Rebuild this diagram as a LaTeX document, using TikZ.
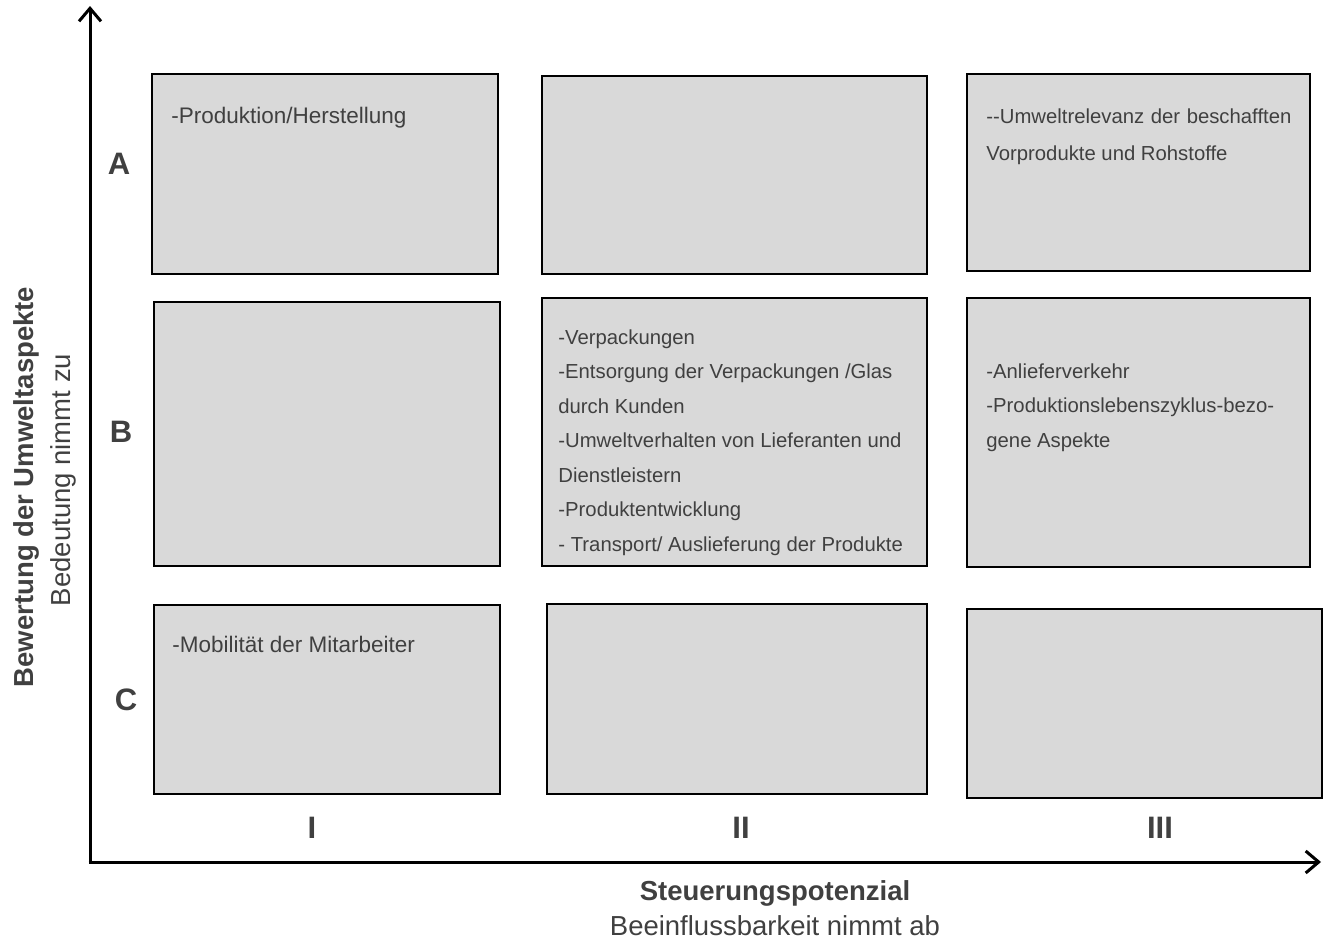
\documentclass[tikz,border=0pt]{standalone}
\usepackage{fontspec}
\setmainfont{Liberation Sans}
\usetikzlibrary{positioning,arrows.meta}
\definecolor{boxgray}{HTML}{D9D9D9}
\definecolor{textgray}{HTML}{404040}
\begin{document}
\begin{tikzpicture}[x=1pt,y=-1pt,
  cell/.style={draw=black,line width=1.6pt,fill=boxgray,inner sep=0pt},
  celltext/.style={inner sep=0pt,align=left,text=textgray,font=\fontsize{22.5}{34.5}\selectfont},
  smalltext/.style={celltext,font=\fontsize{20.3}{34.5}\selectfont},
  rowlabel/.style={text=textgray,inner sep=0pt,font=\fontsize{31}{31}\selectfont\bfseries},
  axis/.style={line width=3pt,-{Straight Barb[length=13pt,width=22pt]}},
  axistitle/.style={text=textgray,inner sep=0pt,anchor=base,font=\fontsize{27.5}{27.5}\selectfont\bfseries},
  axisnote/.style={text=textgray,inner sep=0pt,anchor=base,font=\fontsize{27.5}{27.5}\selectfont}]
\useasboundingbox (0,0) rectangle (1323,940);
% cells of the matrix
\node[cell,minimum width=346pt,minimum height=200pt] (A1) at (325,174) {};
\node[cell,minimum width=385pt,minimum height=198pt] (A2) at (734.5,175) {};
\node[cell,minimum width=343pt,minimum height=197pt] (A3) at (1138.5,172.5) {};
\node[cell,minimum width=346pt,minimum height=264pt] (B1) at (327,434) {};
\node[cell,minimum width=385pt,minimum height=268pt] (B2) at (734.5,432) {};
\node[cell,minimum width=343pt,minimum height=269pt] (B3) at (1138.5,432.5) {};
\node[cell,minimum width=346pt,minimum height=189pt] (C1) at (327,699.5) {};
\node[cell,minimum width=380pt,minimum height=190pt] (C2) at (737,699) {};
\node[cell,minimum width=355pt,minimum height=189pt] (C3) at (1144.5,703.5) {};
% texts in the cells
\node[celltext,below right=34pt and 20pt of A1.north west] (tA1) {-Produktion/Herstellung};
\node[smalltext,below right=35pt and 20pt of A3.north west] (tA3) {\makebox[305pt][s]{-{}-Umweltrelevanz der beschafften}\\[3pt]Vorprodukte und Rohstoffe};
\node[smalltext,below right=32pt and 17pt of B2.north west] (tB2) {-Verpackungen\\-Entsorgung der Verpackungen /Glas\\durch Kunden\\-Umweltverhalten von Lieferanten und\\Dienstleistern\\-Produktentwicklung\\- Transport/ Auslieferung der Produkte};
\node[smalltext,below right=66pt and 20pt of B3.north west] (tB3) {-Anlieferverkehr\\-Produktionslebenszyklus-bezo-\\gene Aspekte};
\node[celltext,below right=32pt and 19pt of C1.north west] (tC1) {-Mobilität der Mitarbeiter};
% row and column labels
\node[rowlabel] (rA) at (119,164) {A};
\node[rowlabel] (rB) at (121,432) {B};
\node[rowlabel] (rC) at (126,700) {C};
\node[rowlabel] (cI) at (312,828) {I};
\node[rowlabel] (cII) at (741,828) {II};
\node[rowlabel] (cIII) at (1160,828) {III};
% axes
\coordinate (origin) at (90,862);
\coordinate (ytip) at (90,6);
\coordinate (xtip) at (1321,862);
\draw[axis] (origin) -- (ytip);
\draw[axis] ([xshift=-1.5pt]origin) -- (xtip);
\node[axistitle] (xtitle) at (775,900) {Steuerungspotenzial};
\node[axisnote] (xnote) at (775,935) {Beeinflussbarkeit nimmt ab};
\node[axistitle,rotate=90] (ytitle) at (34,487) {Bewertung der Umweltaspekte};
\node[axisnote,rotate=90] (ynote) at (70,480) {Bedeutung nimmt zu};
\end{tikzpicture}
\end{document}
